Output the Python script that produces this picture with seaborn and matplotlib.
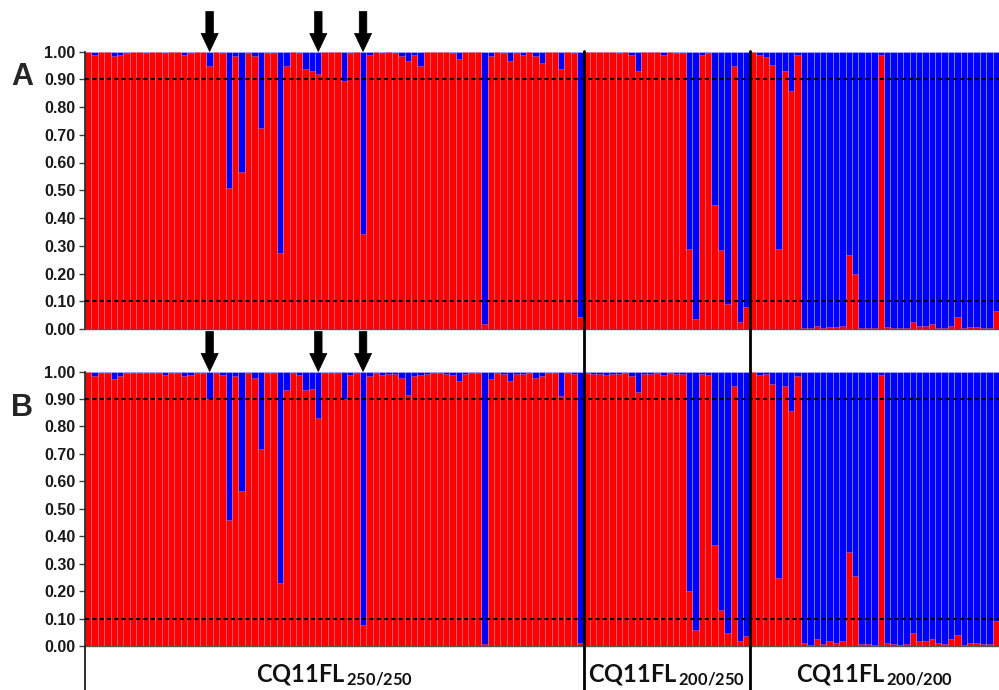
import numpy as np
import pandas as pd
import matplotlib
matplotlib.use("Agg")
import matplotlib.pyplot as plt
import matplotlib.transforms as mtransforms
from matplotlib.lines import Line2D
import seaborn as sns

# ---------------- data (red = cluster-1 membership; blue = 1 - red) ----------------
group_names = ["250/250", "200/250", "200/200"]

A_g1 = [0.998, 0.988, 0.997, 0.997, 0.985, 0.988, 0.995, 0.997, 0.998, 0.995,
        0.997, 0.998, 0.995, 0.998, 0.997, 0.989, 0.995, 0.997, 0.998, 0.949,
        0.997, 0.995, 0.508, 0.982, 0.564, 0.995, 0.982, 0.725, 0.995, 0.995,
        0.275, 0.949, 0.997, 0.995, 0.936, 0.931, 0.918, 0.997, 0.997, 0.997,
        0.892, 0.995, 0.997, 0.343, 0.988, 0.997, 0.995, 0.997, 0.995, 0.985,
        0.967, 0.988, 0.946, 0.997, 0.997, 0.997, 0.997, 0.995, 0.972, 0.997,
        0.997, 0.997, 0.018, 0.982, 0.997, 0.995, 0.964, 0.995, 0.988, 0.997,
        0.985, 0.958, 0.997, 0.997, 0.936, 0.997, 0.995, 0.042]
A_g2 = [0.997, 0.997, 0.997, 0.997, 0.998, 0.995, 0.997, 0.988, 0.930, 0.997,
        0.997, 0.998, 0.988, 0.997, 0.995, 0.995, 0.289, 0.036, 0.988, 0.995,
        0.446, 0.286, 0.090, 0.948, 0.027, 0.078]
A_g3 = [0.998, 0.988, 0.980, 0.952, 0.289, 0.928, 0.859, 0.986, 0.004, 0.003,
        0.012, 0.004, 0.008, 0.008, 0.012, 0.265, 0.199, 0.004, 0.004, 0.002,
        0.988, 0.008, 0.002, 0.002, 0.004, 0.027, 0.012, 0.012, 0.018, 0.004,
        0.002, 0.012, 0.045, 0.002, 0.008, 0.008, 0.004, 0.004, 0.066]

B_g1 = [0.998, 0.985, 0.996, 0.996, 0.972, 0.982, 0.994, 0.994, 0.996, 0.994,
        0.994, 0.996, 0.988, 0.996, 0.996, 0.985, 0.988, 0.996, 0.994, 0.900,
        0.994, 0.988, 0.459, 0.982, 0.566, 0.994, 0.976, 0.716, 0.994, 0.994,
        0.230, 0.933, 0.996, 0.988, 0.931, 0.935, 0.830, 0.994, 0.994, 0.994,
        0.899, 0.988, 0.994, 0.076, 0.984, 0.994, 0.988, 0.991, 0.991, 0.976,
        0.915, 0.985, 0.988, 0.991, 0.994, 0.994, 0.991, 0.988, 0.964, 0.991,
        0.994, 0.994, 0.009, 0.972, 0.994, 0.991, 0.967, 0.991, 0.991, 0.994,
        0.976, 0.984, 0.994, 0.994, 0.911, 0.994, 0.991, 0.012]
B_g2 = [0.994, 0.991, 0.991, 0.988, 0.991, 0.991, 0.994, 0.985, 0.927, 0.991,
        0.991, 0.994, 0.988, 0.994, 0.991, 0.991, 0.200, 0.057, 0.991, 0.988,
        0.367, 0.130, 0.049, 0.948, 0.017, 0.035]
B_g3 = [0.998, 0.988, 0.991, 0.954, 0.246, 0.948, 0.856, 0.985, 0.011, 0.002,
        0.024, 0.006, 0.017, 0.011, 0.020, 0.341, 0.254, 0.006, 0.006, 0.002,
        0.988, 0.011, 0.006, 0.002, 0.006, 0.047, 0.020, 0.020, 0.027, 0.011,
        0.009, 0.024, 0.039, 0.002, 0.011, 0.011, 0.006, 0.006, 0.092]

arrow_bars = [19, 36, 43]          # individuals marked with arrows (group 1 indices)
ytick_values = [0.0, 0.1, 0.2, 0.3, 0.4, 0.5, 0.6, 0.7, 0.8, 0.9, 1.0]
threshold_lines = [0.9, 0.1]
panel_labels = ["A", "B"]

# ---------------- style ----------------
sns.set_style("ticks")
plt.rcParams["font.family"] = ["Liberation Sans", "DejaVu Sans"]
plt.rcParams["mathtext.fontset"] = "custom"
plt.rcParams["mathtext.rm"] = "Lato:bold"
plt.rcParams["mathtext.bf"] = "Lato:bold"
plt.rcParams["mathtext.it"] = "Lato:bold"

RED = "#FF0000"
BLUE = "#0000FF"
W, H = 999, 690
fig = plt.figure(figsize=(W / 100, H / 100), dpi=100)

def fy(px):
    return 1 - px / H

x0, x1 = 85 / W, 999 / W
axA = fig.add_axes([x0, fy(329), x1 - x0, fy(51.5) - fy(329)])
axB = fig.add_axes([x0, fy(646), x1 - x0, fy(371.5) - fy(646)])

groups_sizes = [len(A_g1), len(A_g2), len(A_g3)]

def draw_panel(ax, reds):
    df = pd.DataFrame({"ind": np.arange(len(reds)), "red": reds})
    df["total"] = 1.0
    edge = (1, 1, 1, 0.25)
    sns.barplot(data=df, x="ind", y="total", color=BLUE, saturation=1, width=1,
                edgecolor=edge, linewidth=0.6, errorbar=None, ax=ax)
    sns.barplot(data=df, x="ind", y="red", color=RED, saturation=1, width=1,
                edgecolor=edge, linewidth=0.6, errorbar=None, ax=ax)
    n = len(reds)
    ax.set_xlim(-0.5, n - 0.5)
    ax.set_ylim(0, 1.0)
    for yv in threshold_lines:
        ax.axhline(yv, color="black", lw=1.5, ls=(0, (2.0, 1.5)), zorder=5)
    ax.set_xticks([])
    ax.set_xlabel("")
    ax.set_ylabel("")
    ax.set_yticks(ytick_values)
    ax.set_yticklabels([f"{v:.2f}" for v in ytick_values], fontsize=11.5,
                       fontweight="bold", color="#1a1a1a")
    ax.tick_params(axis="y", length=4, width=1, color="#404040", pad=3, direction="out")
    for s in ["top", "right"]:
        ax.spines[s].set_visible(False)
    ax.spines["left"].set_color("#202020")
    ax.spines["left"].set_linewidth(1.2)
    ax.spines["bottom"].set_color("#555555")
    ax.spines["bottom"].set_linewidth(1.0)
    for b in arrow_bars:
        ax.annotate("", xy=(b, 1.0), xycoords="data", xytext=(0, 40),
                    textcoords="offset pixels", annotation_clip=False,
                    arrowprops=dict(arrowstyle="simple,head_length=1.0,head_width=0.95,tail_width=0.42",
                                    fc="black", ec="black", lw=0.5,
                                    mutation_scale=13, shrinkA=0, shrinkB=0))

draw_panel(axA, A_g1 + A_g2 + A_g3)
draw_panel(axB, B_g1 + B_g2 + B_g3)

# group separators across the whole figure
trans = mtransforms.blended_transform_factory(axA.transData, fig.transFigure)
cum = np.cumsum(groups_sizes)
for c in cum[:-1]:
    fig.add_artist(Line2D([c - 0.5, c - 0.5], [fy(51), 0], transform=trans,
                          color="black", lw=2.0, zorder=10))
# left axis continues below panel B
fig.add_artist(Line2D([-0.5, -0.5], [fy(646), 0], transform=trans,
                      color="#202020", lw=1.3, zorder=10))

# group labels
starts = np.concatenate([[0], cum[:-1]])
for s, n, g in zip(starts, groups_sizes, group_names):
    cx = s + n / 2 - 0.5
    fig.text(cx, fy(683), r"$\mathbf{CQ11FL}_{\mathbf{\,%s}}$" % g, transform=trans,
             ha="center", va="baseline", fontsize=17, color="#111111")

# panel letters
fig.text(22 / W, fy(77), panel_labels[0], ha="center", va="center",
         fontsize=22, fontweight="bold")
fig.text(22 / W, fy(408), panel_labels[1], ha="center", va="center",
         fontsize=22, fontweight="bold")

fig.savefig("out.png", dpi=100)
